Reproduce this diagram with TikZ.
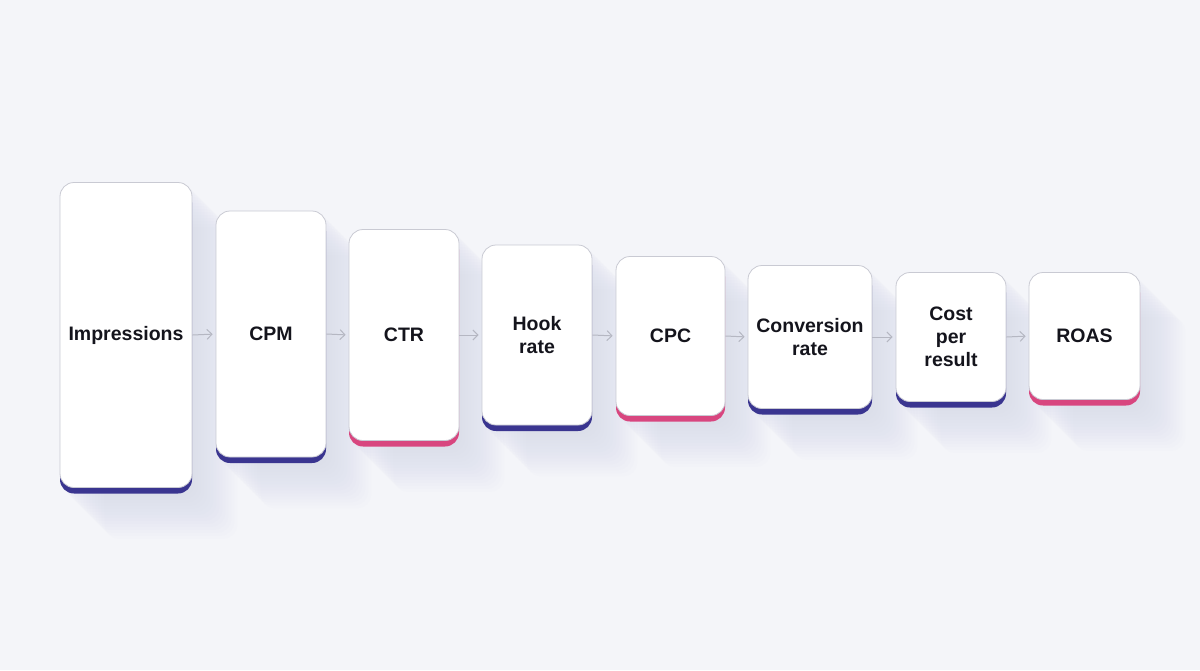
\documentclass[tikz,border=0pt]{standalone}
\usepackage{fontspec}
\setmainfont{Liberation Sans}
\usetikzlibrary{arrows.meta,shadows,backgrounds}

\definecolor{bgcol}{HTML}{F4F5F9}
\definecolor{edgecol}{HTML}{C9CAD3}
\definecolor{arrcol}{HTML}{B5B7C2}
\definecolor{purp}{HTML}{3A3590}
\definecolor{pinkc}{HTML}{D8467F}
\definecolor{shadecol}{HTML}{8E93A8}
\definecolor{txtcol}{HTML}{14141C}

\tikzset{
  card/.style 2 args={draw=edgecol, line width=0.8pt, fill=white, rounded corners=14pt,
    minimum width=#1, minimum height=#2, inner sep=0pt, align=center, text=txtcol,
    font=\fontsize{19.5}{23}\selectfont\bfseries},
  purpband/.style={general shadow={fill=purp, shadow yshift=-6pt}},
  pinkband/.style={general shadow={fill=pinkc, shadow yshift=-6pt}},
  link/.style={draw=arrcol, line width=1pt, -{Straight Barb[length=5pt,width=10pt]}, shorten >=3pt}
}

\begin{document}
\begin{tikzpicture}[x=1pt,y=-1pt]

\useasboundingbox (0,0) rectangle (1200,670);

\node[card={132pt}{305pt}, purpband] (imp)  at (126,335)   {Impressions};
\node[card={110pt}{246pt}, purpband] (cpm)  at (271,334)   {CPM};
\node[card={110pt}{211pt}, pinkband] (ctr)  at (404,335)   {CTR};
\node[card={110pt}{180pt}, purpband] (hook) at (537,335)   {Hook\\rate};
\node[card={109pt}{159pt}, pinkband] (cpc)  at (670.5,336) {CPC};
\node[card={124pt}{143pt}, purpband] (conv) at (810,337)   {Conversion\\rate};
\node[card={110pt}{129pt}, purpband] (cost) at (951,337)   {Cost\\per\\result};
\node[card={111pt}{127pt}, pinkband] (roas) at (1084.5,336) {ROAS};

% background and cast shadows
\begin{pgfonlayer}{background}
\fill[bgcol] (0,0) rectangle (1200,670);
\foreach \n in {imp,cpm,ctr,hook,cpc,conv,cost,roas}
  \foreach \d in {3,6,...,45}
    \fill[shadecol, opacity=0.011, rounded corners=14pt]
      ([shift={(\d pt,-\d pt)}]\n.north west) rectangle ([shift={(\d pt,-\d pt-6pt)}]\n.south east);
\end{pgfonlayer}

\draw[link] (imp.east)  -- (cpm.west);
\draw[link] (cpm.east)  -- (ctr.west);
\draw[link] (ctr.east)  -- (hook.west);
\draw[link] (hook.east) -- (cpc.west);
\draw[link] (cpc.east)  -- (conv.west);
\draw[link] (conv.east) -- (cost.west);
\draw[link] (cost.east) -- (roas.west);
\end{tikzpicture}
\end{document}
